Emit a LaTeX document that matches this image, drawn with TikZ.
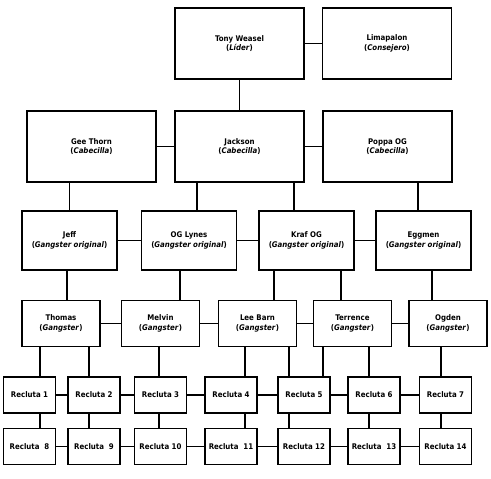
\documentclass[tikz,border=0pt]{standalone}
\usepackage{fontspec}
\setmainfont{DejaVu Sans Condensed}
\usetikzlibrary{positioning}
\tikzset{
	caja/.style={
		rectangle,
		draw=black, line width=1.8pt,
		align=center,
		inner sep=1pt,
		font=\fontsize{7.8}{9.5}\selectfont\bfseries},
	jefe/.style={caja, minimum width=129pt, minimum height=71pt},
	original/.style={caja, minimum width=95pt, minimum height=59pt},
	gangster/.style={caja, minimum width=78pt, minimum height=46pt},
	recluta/.style={caja, minimum width=52pt, minimum height=36pt},
	line/.style={draw, line width=1.8pt},
}

\begin{document}
\begin{tikzpicture}
[x=1pt, y=-1pt]
\useasboundingbox (0,0) rectangle (491,479);
% jefes
\node[jefe] (tony)    at (239.5,43.5) {Tony Weasel\\(\textit{Líder})};
\node[jefe] (lima)    at (387,43.5)   {Limapalon\\(\textit{Consejero})};
\node[jefe] (gee)     at (91.5,146.5) {Gee Thorn\\(\textit{Cabecilla})};
\node[jefe] (jackson) at (239.5,146.5) {Jackson\\(\textit{Cabecilla})};
\node[jefe] (poppa)   at (387.5,146.5) {Poppa OG\\(\textit{Cabecilla})};
% gangsters originales
\node[original] (jeff)   at (69.5,240.5)  {Jeff\\(\textit{Gangster original})};
\node[original] (lynes)  at (189,240.5)   {OG Lynes\\(\textit{Gangster original})};
\node[original] (kraf)   at (306.5,240.5) {Kraf OG\\(\textit{Gangster original})};
\node[original] (eggmen) at (423.5,240.5) {Eggmen\\(\textit{Gangster original})};
% gangsters
\node[gangster] (thomas)   at (61,323.5)    {Thomas\\(\textit{Gangster})};
\node[gangster] (melvin)   at (160.5,323.5) {Melvin\\(\textit{Gangster})};
\node[gangster] (leebarn)  at (257.5,323.5) {Lee Barn\\(\textit{Gangster})};
\node[gangster] (terrence) at (352.5,323.5) {Terrence\\(\textit{Gangster})};
\node[gangster] (ogden)    at (448,323.5)   {Ogden\\(\textit{Gangster})};
% reclutas
\node[recluta] (r1) at (29.5,395)  {Recluta 1};
\node[recluta] (r2) at (94,395)    {Recluta 2};
\node[recluta] (r3) at (160.5,395) {Recluta 3};
\node[recluta] (r4) at (231,395)   {Recluta 4};
\node[recluta] (r5) at (304,395)   {Recluta 5};
\node[recluta] (r6) at (374,395)   {Recluta 6};
\node[recluta] (r7) at (445.5,395) {Recluta 7};
\node[recluta] (r8)  at (29.5,446.5)  {Recluta~ 8};
\node[recluta] (r9)  at (94,446.5)    {Recluta~ 9};
\node[recluta] (r10) at (160.5,446.5) {Recluta 10};
\node[recluta] (r11) at (231,446.5)   {Recluta~ 11};
\node[recluta] (r12) at (304,446.5)   {Recluta 12};
\node[recluta] (r13) at (374,446.5)   {Recluta~ 13};
\node[recluta] (r14) at (445.5,446.5) {Recluta 14};

% conexiones horizontales
\path[line] (tony) -- (lima);
\path[line] (gee) -- (jackson);
\path[line] (jackson) -- (poppa);
\path[line] (jeff) -- (lynes);
\path[line] (lynes) -- (kraf);
\path[line] (kraf) -- (eggmen);
\path[line] (thomas) -- (melvin);
\path[line] (melvin) -- (leebarn);
\path[line] (leebarn) -- (terrence);
\path[line] (terrence) -- (ogden);
\path[line] (r1) -- (r2);
\path[line] (r2) -- (r3);
\path[line] (r3) -- (r4);
\path[line] (r4) -- (r5);
\path[line] (r5) -- (r6);
\path[line] (r6) -- (r7);
\path[line] (r8) -- (r9);
\path[line] (r9) -- (r10);
\path[line] (r10) -- (r11);
\path[line] (r11) -- (r12);
\path[line] (r12) -- (r13);
\path[line] (r13) -- (r14);

% conexiones verticales
\path[line] (tony) -- (jackson);
\path[line] (jeff.north |- gee.south) -- (jeff.north);
\path[line] ([xshift=8pt]lynes.north |- jackson.south) -- ([xshift=8pt]lynes.north);
\path[line] ([xshift=-12.5pt]kraf.north |- jackson.south) -- ([xshift=-12.5pt]kraf.north);
\path[line] ([xshift=-5.5pt]eggmen.north |- poppa.south) -- ([xshift=-5.5pt]eggmen.north);
\path[line] ([xshift=-2.5pt]jeff.south) -- ([xshift=-2.5pt]jeff.south |- thomas.north);
\path[line] ([xshift=-9pt]lynes.south) -- ([xshift=-9pt]lynes.south |- melvin.north);
\path[line] ([xshift=-32.5pt]kraf.south) -- ([xshift=-32.5pt]kraf.south |- leebarn.north);
\path[line] ([xshift=34.5pt]kraf.south) -- ([xshift=34.5pt]kraf.south |- terrence.north);
\path[line] ([xshift=8.5pt]eggmen.south) -- ([xshift=8.5pt]eggmen.south |- ogden.north);
\path[line] ([xshift=10.5pt]r1.north |- thomas.south) -- ([xshift=10.5pt]r1.north);
\path[line] ([xshift=-5pt]r2.north |- thomas.south) -- ([xshift=-5pt]r2.north);
\path[line] ([xshift=-1.5pt]r3.north |- melvin.south) -- ([xshift=-1.5pt]r3.north);
\path[line] ([xshift=14pt]r4.north |- leebarn.south) -- ([xshift=14pt]r4.north);
\path[line] ([xshift=-15pt]r5.north |- leebarn.south) -- ([xshift=-15pt]r5.north);
\path[line] ([xshift=19pt]r5.north |- terrence.south) -- ([xshift=19pt]r5.north);
\path[line] ([xshift=-5pt]r6.north |- terrence.south) -- ([xshift=-5pt]r6.north);
\path[line] ([xshift=-4.5pt]r7.north |- ogden.south) -- ([xshift=-4.5pt]r7.north);
\path[line] ([xshift=10.5pt]r1.south) -- ([xshift=10.5pt]r8.north);
\path[line] ([xshift=-5pt]r2.south) -- ([xshift=-5pt]r9.north);
\path[line] ([xshift=-1.5pt]r3.south) -- ([xshift=-1.5pt]r10.north);
\path[line] ([xshift=14pt]r4.south) -- ([xshift=14pt]r11.north);
\path[line] ([xshift=-15pt]r5.south) -- ([xshift=-15pt]r12.north);
\path[line] ([xshift=-5pt]r6.south) -- ([xshift=-5pt]r13.north);
\path[line] ([xshift=-4.5pt]r7.south) -- ([xshift=-4.5pt]r14.north);
\end{tikzpicture}
\end{document}
